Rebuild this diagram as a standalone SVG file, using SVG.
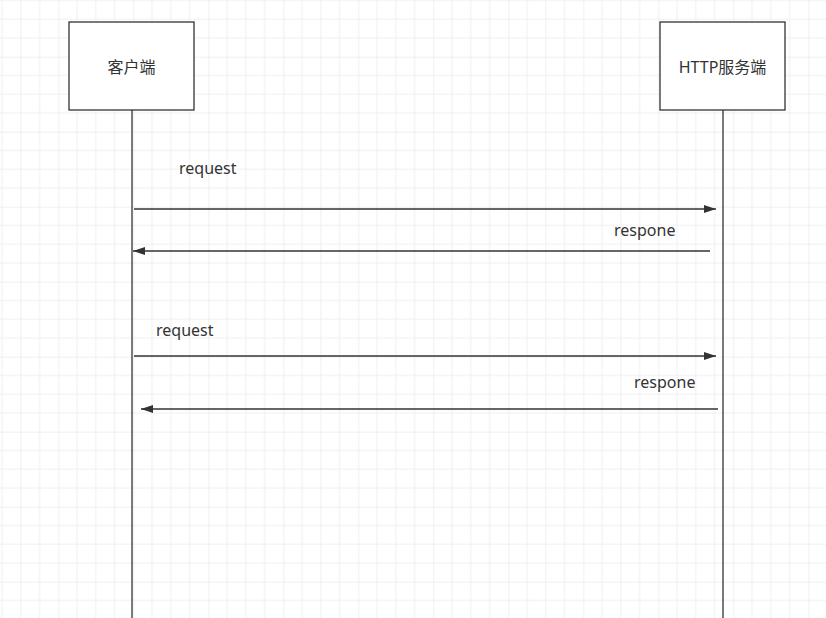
<svg xmlns="http://www.w3.org/2000/svg" width="826" height="618" viewBox="0 0 826 618">
  <style>
    .box { fill: #ffffff; stroke: #333333; stroke-width: 1.3; }
    .life { stroke: #333333; stroke-width: 1.3; fill: none; }
    .msg { stroke: #333333; stroke-width: 1.3; fill: none; }
    .t { font-family: "Noto Sans", "Noto Sans CJK SC", sans-serif; font-size: 16px; fill: #333333; }
  </style>
  <defs>
    <pattern id="grid" patternUnits="userSpaceOnUse" x="58.33" y="56.67" width="75" height="75">
      <rect x="0" y="0" width="75" height="75" fill="#ffffff"/>
      <g stroke="#f0f0f0" stroke-width="1">
        <line x1="18.75" y1="0" x2="18.75" y2="75"/>
        <line x1="37.5" y1="0" x2="37.5" y2="75"/>
        <line x1="56.25" y1="0" x2="56.25" y2="75"/>
        <line x1="0" y1="18.75" x2="75" y2="18.75"/>
        <line x1="0" y1="37.5" x2="75" y2="37.5"/>
        <line x1="0" y1="56.25" x2="75" y2="56.25"/>
      </g>
      <g stroke="#e2e2e2" stroke-width="1">
        <line x1="0" y1="0" x2="0" y2="75"/>
        <line x1="0" y1="0" x2="75" y2="0"/>
      </g>
    </pattern>
    <marker id="arrow" viewBox="0 0 12 8" refX="12" refY="4" markerWidth="12" markerHeight="8" markerUnits="userSpaceOnUse" orient="auto">
      <path d="M0,0 L12,4 L0,8 Z" fill="#333333"/>
    </marker>
  </defs>
  <rect x="0" y="0" width="826" height="618" fill="url(#grid)"/>

  <g id="client">
    <line class="life" x1="132" y1="110" x2="132" y2="618"/>
    <rect class="box" x="69" y="22" width="125" height="88"/>
    <text class="t" x="131.5" y="72.5" text-anchor="middle">客户端</text>
  </g>

  <g id="server">
    <line class="life" x1="723" y1="110" x2="723" y2="618"/>
    <rect class="box" x="660" y="22" width="125" height="88"/>
    <text class="t" x="722.5" y="72.5" text-anchor="middle">HTTP服务端</text>
  </g>

  <g id="connectors">
    <line class="msg" x1="134" y1="209" x2="716" y2="209" marker-end="url(#arrow)"/>
    <line class="msg" x1="710" y1="251" x2="133" y2="251" marker-end="url(#arrow)"/>
    <line class="msg" x1="134" y1="356" x2="716" y2="356" marker-end="url(#arrow)"/>
    <line class="msg" x1="718" y1="409" x2="141" y2="409" marker-end="url(#arrow)"/>
  </g>

  <g id="labels">
    <text class="t" x="179" y="174">request</text>
    <text class="t" x="614" y="236">respone</text>
    <text class="t" x="156" y="336">request</text>
    <text class="t" x="634" y="388">respone</text>
  </g>
</svg>
